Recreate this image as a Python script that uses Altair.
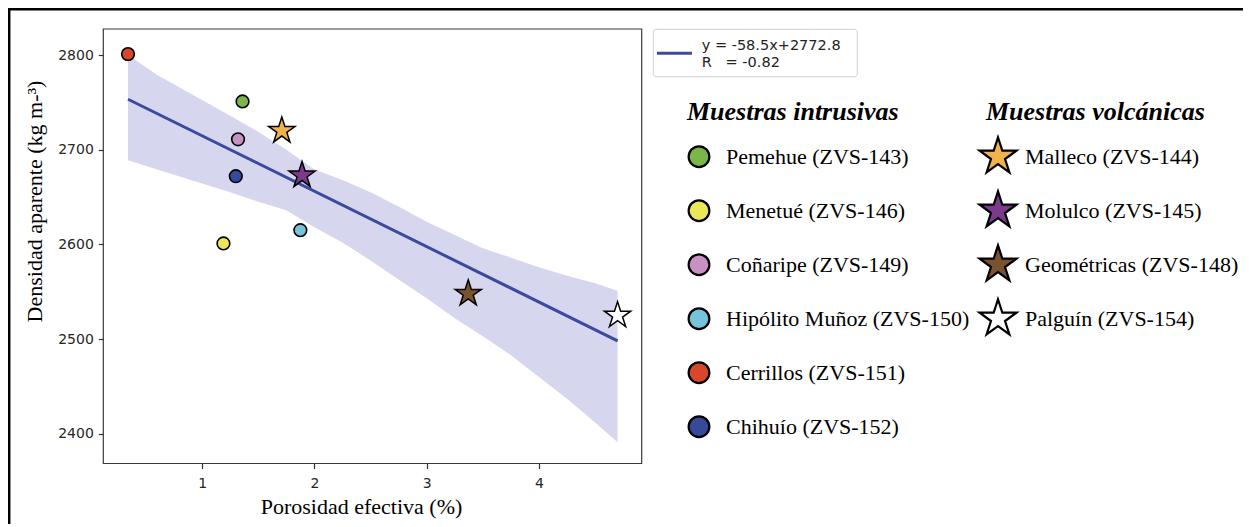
import altair as alt
import pandas as pd

# ---------------- data ----------------
SAMPLES = ["Pemehue (ZVS-143)", "Menetué (ZVS-146)", "Coñaripe (ZVS-149)",
           "Hipólito Muñoz (ZVS-150)", "Cerrillos (ZVS-151)", "Chihuío (ZVS-152)",
           "Malleco (ZVS-144)", "Molulco (ZVS-145)", "Geométricas (ZVS-148)",
           "Palguín (ZVS-154)"]
GROUPS = ["intrusiva"] * 6 + ["volcanica"] * 4
POROSIDAD = [1.36, 1.19, 1.32, 1.875, 0.34, 1.30, 1.71, 1.89, 3.37, 4.70]
DENSIDAD = [2751, 2601, 2711, 2615, 2801, 2672, 2720, 2673, 2548, 2525]
COLORES = ["#7ab648", "#ece65a", "#c991c1", "#76c3dc", "#d9472b", "#36499a",
           "#f0b24c", "#7b3a8c", "#7a5230", "#ffffff"]
LEG_COL = [0] * 6 + [1] * 4
LEG_ROW = [0, 1, 2, 3, 4, 5, 0, 1, 2, 3]

LEG_TITLES = ["Muestras intrusivas", "Muestras volcánicas"]
LEG_TITLE_COL = [0, 1]

BAND_X = [0.34, 0.6, 0.9, 1.25, 1.5, 1.75, 2.0, 2.25, 2.5, 2.75, 3.0, 3.25,
          3.5, 3.75, 4.0, 4.25, 4.5, 4.70]
BAND_HI = [2800, 2779, 2759, 2736, 2719, 2700, 2679, 2668, 2655, 2640, 2624,
           2610, 2596, 2586, 2576, 2567, 2559, 2551]
BAND_LO = [2689, 2679, 2668, 2655, 2645, 2636, 2618, 2602, 2583, 2563, 2543,
           2522, 2503, 2483, 2460, 2437, 2412, 2391]

X_TICKS = [1, 2, 3, 4]
Y_TICKS = [2400, 2500, 2600, 2700, 2800]
X_DOMAIN = [0.12, 4.915]
Y_DOMAIN = [2368.6, 2827.5]

REG_TEXT = ["y = -58.5x+2772.8", "R\u00a0\u00a0\u00a0= -0.82"]

X_TITLE = "Porosidad efectiva (%)"
Y_TITLE = "Densidad aparente (kg m-³)"

# ---------------- layout ----------------
W, H = 1235, 516
PX0, PX1 = 95.3, 633.7      # plot frame left/right (view px)
PY0, PY1 = 21.0, 455.5      # plot frame top/bottom (view px)

STAR = ("M0,-1L0.2245,-0.309L0.951,-0.309L0.363,0.118L0.588,0.809L0,0.382"
        "L-0.588,0.809L-0.363,0.118L-0.951,-0.309L-0.2245,-0.309Z")

df = pd.DataFrame({"name": SAMPLES, "group": GROUPS, "x": POROSIDAD,
                   "y": DENSIDAD, "color": COLORES, "col": LEG_COL, "row": LEG_ROW})
band = pd.DataFrame({"bx": BAND_X, "hi": BAND_HI, "lo": BAND_LO})
frame = pd.DataFrame({"fx": [X_DOMAIN[0]], "fx2": [X_DOMAIN[1]],
                      "fy": [Y_DOMAIN[0]], "fy2": [Y_DOMAIN[1]]})
titles = pd.DataFrame({"t": LEG_TITLES, "col": LEG_TITLE_COL, "row": [-0.833, -0.833]})
one = pd.DataFrame({"a": [0]})

xs = alt.Scale(domain=X_DOMAIN, range=[PX0, PX1], nice=False, zero=False)
ys = alt.Scale(domain=Y_DOMAIN, range=[PY1, PY0], nice=False, zero=False)

tick_font = "DejaVu Sans"
xaxis = alt.Axis(values=X_TICKS, title=X_TITLE, offset=PY1 - H, domain=False, grid=False,
                 format="d", tickSize=5, tickColor="#333333", tickWidth=1.2,
                 labelFont=tick_font, labelFontSize=14, labelColor="#262626", labelPadding=8,
                 titleFont="Liberation Serif", titleFontSize=22, titleFontWeight="normal",
                 titleColor="black", titleX=353, titleY=50, titleBaseline="alphabetic",
                 titleAlign="center")
yaxis = alt.Axis(values=Y_TICKS, title=Y_TITLE, offset=-PX0, domain=False, grid=False,
                 format="d", tickSize=5, tickColor="#333333", tickWidth=1.2,
                 labelFont=tick_font, labelFontSize=14, labelColor="#262626", labelPadding=5,
                 titleFont="Liberation Serif", titleFontSize=22, titleFontWeight="normal",
                 titleColor="black", titleAngle=270, titleX=-62, titleY=193,
                 titleBaseline="alphabetic", titleAlign="center")

band_layer = alt.Chart(band).mark_area(color="#d6d6ee", opacity=1).encode(
    x=alt.X("bx:Q", scale=xs, axis=xaxis),
    y=alt.Y("hi:Q", scale=ys, axis=yaxis),
    y2="lo:Q",
)
line_layer = alt.Chart(df).transform_regression("x", "y").mark_line(
    color="#3a4a9f", strokeWidth=3).encode(
    x=alt.X("x:Q", scale=xs, axis=xaxis),
    y=alt.Y("y:Q", scale=ys, axis=yaxis),
)
circ_layer = alt.Chart(df).transform_filter(alt.datum.group == "intrusiva").mark_point(
    shape="circle", filled=True, opacity=1, size=160, stroke="black", strokeWidth=1.6).encode(
    x=alt.X("x:Q", scale=xs, axis=xaxis),
    y=alt.Y("y:Q", scale=ys, axis=yaxis),
    fill=alt.Fill("color:N", scale=None),
)
star_layer = alt.Chart(df).transform_filter(alt.datum.group == "volcanica").mark_point(
    shape=STAR, filled=True, opacity=1, size=760, stroke="black", strokeWidth=1.5).encode(
    x=alt.X("x:Q", scale=xs, axis=xaxis),
    y=alt.Y("y:Q", scale=ys, axis=yaxis),
    fill=alt.Fill("color:N", scale=None),
)
frame_layer = alt.Chart(frame).mark_rect(fillOpacity=0, stroke="#3a3a3a", strokeWidth=1.2).encode(
    x=alt.X("fx:Q", scale=xs, axis=xaxis), x2="fx2:Q",
    y=alt.Y("fy:Q", scale=ys, axis=yaxis), y2="fy2:Q",
)
plot = alt.layer(band_layer, line_layer, circ_layer, star_layer, frame_layer)

# ---------------- custom legend ----------------
lxs = alt.Scale(domain=[0, 1], range=[691, 990], nice=False, zero=False)
lys = alt.Scale(domain=[0, 5], range=[148.7, 418.7], nice=False, zero=False)

leg_circ = alt.Chart(df).transform_filter(alt.datum.group == "intrusiva").mark_point(
    shape="circle", filled=True, opacity=1, size=430, stroke="black", strokeWidth=2.2).encode(
    x=alt.X("col:Q", scale=lxs, axis=None),
    y=alt.Y("row:Q", scale=lys, axis=None),
    fill=alt.Fill("color:N", scale=None),
)
leg_star = alt.Chart(df).transform_filter(alt.datum.group == "volcanica").mark_point(
    shape=STAR, filled=True, opacity=1, size=1500, stroke="black", strokeWidth=2.2).encode(
    x=alt.X("col:Q", scale=lxs, axis=None),
    y=alt.Y("row:Q", scale=lys, axis=None),
    fill=alt.Fill("color:N", scale=None),
)
leg_text = alt.Chart(df).mark_text(align="left", baseline="middle", dx=27,
                                   font="Liberation Serif", fontSize=22, color="black").encode(
    x=alt.X("col:Q", scale=lxs, axis=None),
    y=alt.Y("row:Q", scale=lys, axis=None),
    text="name:N",
)
leg_title = alt.Chart(titles).mark_text(align="left", baseline="middle", dx=-12,
                                        font="Liberation Serif", fontSize=26,
                                        fontStyle="italic", fontWeight="bold",
                                        color="black").encode(
    x=alt.X("col:Q", scale=lxs, axis=None),
    y=alt.Y("row:Q", scale=lys, axis=None),
    text="t:N",
)
legend = alt.layer(leg_circ, leg_star, leg_text, leg_title)

# ---------------- regression legend box & figure border ----------------
reg_box = alt.Chart(one).mark_rect(fill="white", stroke="#d0d0d0", strokeWidth=1,
                                   cornerRadius=3).encode(
    x=alt.value(645.3), x2=alt.value(849.3), y=alt.value(21.3), y2=alt.value(68.7))
reg_line = alt.Chart(one).mark_rule(color="#3a4a9f", strokeWidth=3).encode(
    x=alt.value(649), x2=alt.value(684), y=alt.value(45.3))
reg_t1 = alt.Chart(one).mark_text(text=REG_TEXT[0], align="left", baseline="alphabetic",
                                  font="DejaVu Sans", fontSize=14.5, color="#222222").encode(
    x=alt.value(693.7), y=alt.value(42))
reg_t2 = alt.Chart(one).mark_text(text=REG_TEXT[1], align="left", baseline="alphabetic",
                                  font="DejaVu Sans", fontSize=14.5, color="#222222").encode(
    x=alt.value(693.7), y=alt.value(58.7))
border_left = alt.Chart(one).mark_rule(color="black", strokeWidth=2.5).encode(
    x=alt.value(1.2), y=alt.value(0), y2=alt.value(H))
border_top = alt.Chart(one).mark_rule(color="black", strokeWidth=2.5).encode(
    x=alt.value(0), x2=alt.value(W), y=alt.value(1.2))
decor = alt.layer(reg_box, reg_line, reg_t1, reg_t2, border_left, border_top)

chart = alt.layer(plot, legend, decor).resolve_scale(
    x="independent", y="independent"
).properties(
    width=W, height=H, padding=0, autosize=alt.AutoSizeParams(type="none"),
    background="white",
).configure_view(strokeWidth=0)

chart.save("out.html", embed_options={"renderer": "svg", "actions": False})
